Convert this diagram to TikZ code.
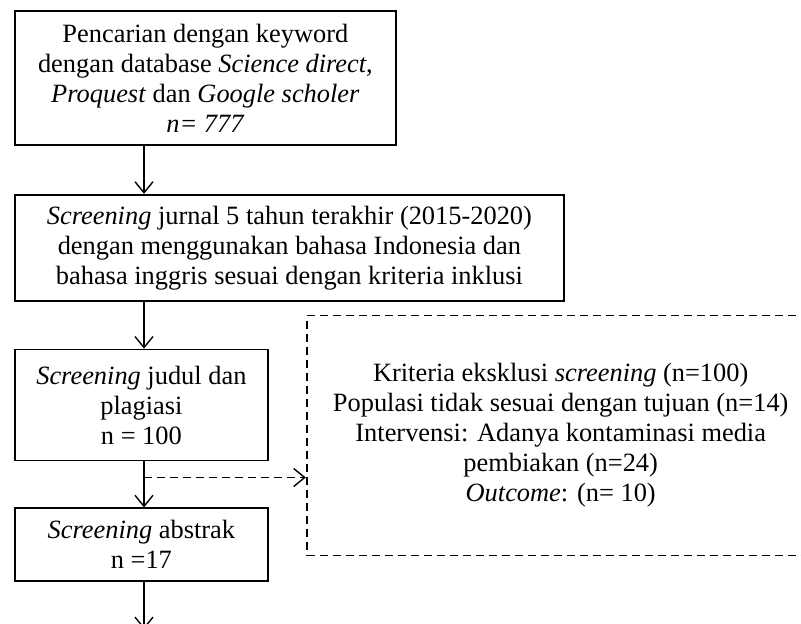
\documentclass[tikz,border=0pt]{standalone}
\usepackage{fontspec}
\setmainfont{Liberation Serif}
\usepackage{tikz}
\usetikzlibrary{positioning}
\usetikzlibrary{calc}
\usetikzlibrary{arrows.meta}

\tikzset{
    stepbox/.style={draw, line width=0.9pt, align=center, inner sep=1pt, anchor=north west},
    flow/.style={line width=0.7pt, -{Straight Barb[length=5.5pt,width=9pt]}},
    skip/.style={flow, dash pattern=on 4pt off 2.5pt}
}

\begin{document}
\begin{tikzpicture}[font=\fontsize{13.2}{15}\selectfont]
    \useasboundingbox (0,0) rectangle (400.5pt,-311.5pt);

    \coordinate (spine) at (72pt,0);

    \node [stepbox, minimum width=190.5pt, minimum height=67pt] (s1) at (7pt,-5pt)
        {Pencarian dengan keyword\\ dengan database \textit{Science direct},\\ \textit{Proquest} dan \textit{Google scholer}\\ \textit{n= 777}};
    \node [stepbox, below=24pt of s1.south west, anchor=north west, minimum width=274.5pt, minimum height=53pt] (s2)
        {\textit{Screening} jurnal 5 tahun terakhir (2015-2020)\\ dengan menggunakan bahasa Indonesia dan\\ bahasa inggris sesuai dengan kriteria inklusi};
    \node [stepbox, below=23.5pt of s2.south west, anchor=north west, minimum width=126.5pt, minimum height=55.5pt] (s3)
        {\textit{Screening} judul dan\\ plagiasi\\ n = 100};
    \node [stepbox, below=23pt of s3.south west, anchor=north west, minimum width=126.5pt, minimum height=36.5pt] (s4)
        {\textit{Screening} abstrak\\ n =17};

    \node [stepbox, dash pattern=on 4pt off 2.5pt, line width=0.9pt, above right=17pt and 18.5pt of s3.north east, anchor=north west, minimum width=254pt, minimum height=120pt] (x1)
        {Kriteria eksklusi \textit{screening} (n=100)\\ Populasi tidak sesuai dengan tujuan (n=14)\\ Intervensi: Adanya kontaminasi media\\ pembiakan (n=24)\\ \textit{Outcome}: (n= 10)};

    \coordinate (k) at ($(s3.south -| spine)!0.35!(s4.north -| spine)$);
    \coordinate (end) at ($(s4.south -| spine)+(0,-23.5pt)$);

    \draw [flow] (s1.south -| spine) -- (s2.north -| spine);
    \draw [flow] (s2.south -| spine) -- (s3.north -| spine);
    \draw [flow] (s3.south -| spine) -- (s4.north -| spine);
    \draw [flow] (s4.south -| spine) -- (end);
    \draw [skip] (k) -- (x1.west |- k);

\end{tikzpicture}
\end{document}
